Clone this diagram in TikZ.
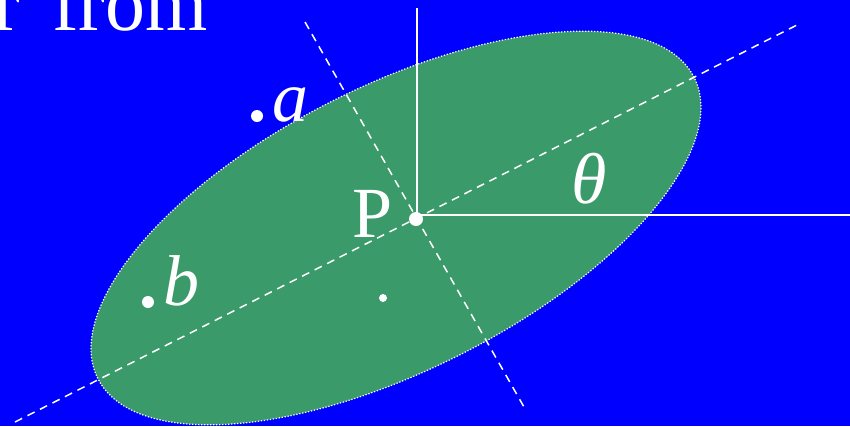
\documentclass[tikz,border=0pt]{standalone}
\usepackage{fontspec}
\setmainfont{Liberation Serif}
\definecolor{bgblue}{HTML}{0000FF}
\definecolor{ellgreen}{HTML}{3A9A6A}
\begin{document}
\begin{tikzpicture}[x=1pt,y=-1pt,
  axisline/.style={white, line width=1.6pt},
  dashline/.style={white, line width=1.5pt, dash pattern=on 8pt off 6pt},
  rim/.style={white, line width=1.2pt, dash pattern=on 1.3pt off 1.7pt},
  lbl/.style={text=white, inner sep=0pt, font=\fontsize{72}{80}\selectfont},
  pt/.style={circle, fill=white, inner sep=0pt}]
\useasboundingbox (0,0) rectangle (850,426);
\clip (0,0) rectangle (850,426);
\fill[bgblue] (0,0) rectangle (850,426);
\fill[ellgreen] [rotate around={26.8:(396,228)}] (396,228) ellipse [x radius=334pt, y radius=142pt];
\draw[rim] [rotate around={26.8:(396,228)}] (396,228) ellipse [x radius=334pt, y radius=142pt];
\node[text=white, inner sep=0pt, anchor=base east, font=\fontsize{80}{90}\selectfont] (title) at (208,30) {r\hspace{12pt} from};
% axes
\coordinate (ax0) at (417,215);
\coordinate (axup) at (417,8);
\coordinate (axright) at (852,215);
\draw[axisline] (axup) -- (ax0) -- (axright);
\coordinate (maj1) at (15,422);
\coordinate (maj2) at (797,25);
\coordinate (min1) at (305,22);
\coordinate (min2) at (524,407);
\draw[dashline] (maj1) -- (maj2);
\draw[dashline] (min1) -- (min2);
% points
\node[pt, minimum size=14pt] (P) at (416,219) {};
\node[pt, minimum size=12pt] (adot) at (257,116) {};
\node[pt, minimum size=12pt] (bdot) at (148,302) {};
\node[pt, minimum size=8pt] (cdot) at (383,298) {};
% labels
\node[lbl, anchor=base west] (Plbl) at (352,237) {P};
\node[lbl, anchor=base west] (albl) at (272,121) {\itshape a};
\node[lbl, anchor=base west] (blbl) at (163,305) {\itshape b};
\node[lbl, anchor=base west] (tlbl) at (571,203) {\itshape θ};
\end{tikzpicture}
\end{document}
